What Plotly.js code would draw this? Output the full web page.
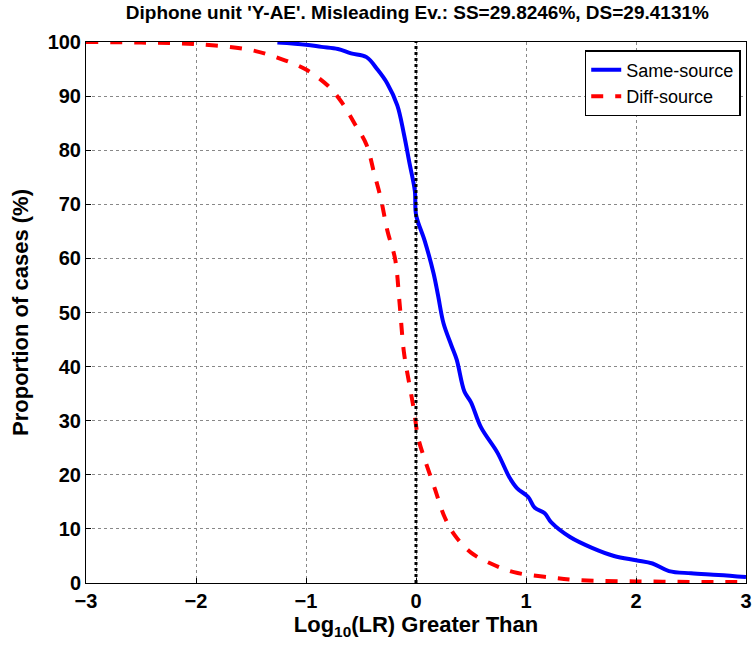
<!DOCTYPE html>
<html>
<head>
<meta charset="utf-8">
<script src="https://cdn.plot.ly/plotly-3.0.1.min.js"></script>
<style>body{margin:0;background:#fff}#plot{width:752px;height:659px}</style>
</head>
<body>
<div id="plot"></div>
<script>
const sameX = [-1.26, -1, -0.86, -0.71, -0.59, -0.45, -0.35, -0.26, -0.17, -0.11, -0.06, -0.01, 0.0, 0.08, 0.16, 0.20, 0.25, 0.32, 0.37, 0.44, 0.50, 0.59, 0.74, 0.85, 0.92, 1.02, 1.08, 1.17, 1.23, 1.4, 1.6, 1.8, 2.0, 2.15, 2.3, 2.5, 2.75, 3.0];
const sameY = [99.9, 99.5, 99.1, 98.7, 97.9, 97.2, 94.9, 92.3, 88.3, 83, 77.7, 72.4, 68.1, 63.2, 57.2, 53.2, 48, 44, 41.3, 35.4, 33.4, 28.8, 24.1, 19.5, 17.5, 15.9, 13.9, 12.9, 11.2, 8.5, 6.5, 5, 4.2, 3.6, 2.2, 1.8, 1.5, 1.1];
const diffX = [-3, -2.5, -2, -1.5, -1.23, -1, -0.80, -0.68, -0.56, -0.45, -0.38, -0.32, -0.26, -0.19, -0.15, -0.11, -0.06, -0.02, 0.02, 0.08, 0.17, 0.26, 0.35, 0.50, 0.68, 0.89, 1.23, 1.5, 2.0, 2.5, 3.0];
const diffY = [100, 99.9, 99.6, 98.5, 96.9, 94.9, 91.9, 89, 85, 81, 75.7, 71.1, 65.1, 59.9, 51.9, 42.7, 36.7, 32.1, 26.8, 22.8, 17.5, 12.2, 8.9, 5.6, 3.6, 2.0, 1.0, 0.5, 0.3, 0.2, 0.2];
const xTicks = [-3, -2, -1, 0, 1, 2, 3];
const yTicks = [0, 10, 20, 30, 40, 50, 60, 70, 80, 90, 100];

const ax = {
  showline: true, mirror: true, linecolor: "#000", linewidth: 1,
  ticks: "inside", ticklen: 5, tickcolor: "#000",
  showgrid: true, gridcolor: "#888", griddash: "dot", gridwidth: 1,
  zeroline: false, tickfont: { size: 20, color: "#000", weight: "bold" }
};

Plotly.newPlot("plot", [
  { x: sameX, y: sameY, mode: "lines", name: "Same-source", line: { color: "#0000ff", width: 4, shape: "spline" } },
  { x: diffX, y: diffY, mode: "lines", name: "Diff-source", line: { color: "#ff0000", width: 4, dash: "dash", shape: "spline" } }
], {
  width: 752, height: 659,
  paper_bgcolor: "#fff", plot_bgcolor: "#fff",
  font: { family: "Liberation Sans, Arial, sans-serif", color: "#000" },
  margin: { l: 86, r: 6, t: 42, b: 76 },
  title: { text: "Diphone unit 'Y-AE'. Misleading Ev.: SS=29.8246%, DS=29.4131%", font: { size: 19, weight: "bold" }, x: 0.555, xanchor: "center", y: 0.992, yanchor: "top" },
  xaxis: Object.assign({}, ax, { range: [-3, 3], tickvals: xTicks,
    title: { text: "Log<sub>10</sub>(LR) Greater Than", font: { size: 22, weight: "bold" }, standoff: 2 } }),
  yaxis: Object.assign({}, ax, { range: [0, 100], tickvals: yTicks,
    title: { text: "Proportion of cases (%)", font: { size: 22, weight: "bold" }, standoff: 12 } }),
  shapes: [{ type: "line", xref: "x", yref: "paper", x0: 0, x1: 0, y0: 0, y1: 1, line: { color: "#000", width: 3, dash: "dot" } }],
  legend: { x: 0.992, xanchor: "right", y: 0.985, yanchor: "top", bordercolor: "#000", borderwidth: 1.5, bgcolor: "#fff", font: { size: 18 } },
  showlegend: true
}, { displayModeBar: false, staticPlot: true });
</script>
</body>
</html>
